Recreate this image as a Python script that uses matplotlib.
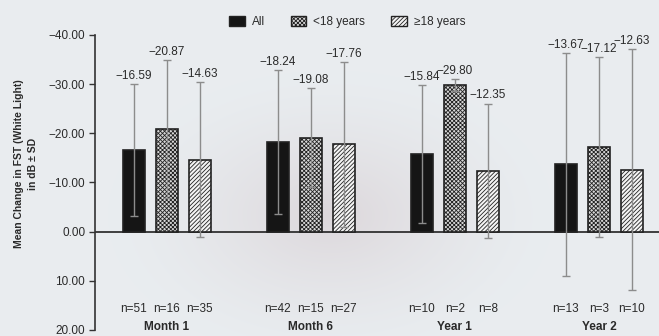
import matplotlib
matplotlib.use("Agg")
import matplotlib.pyplot as plt
import numpy as np
from matplotlib.patches import Patch
from matplotlib.ticker import FuncFormatter

plt.rcParams["font.family"] = ["Liberation Sans", "DejaVu Sans"]
plt.rcParams["hatch.linewidth"] = 0.6

visits = ["Month 1", "Month 6", "Year 1", "Year 2"]
groups = ["All", "<18 years", "\u226518 years"]

# mean change (dB) and SD per visit, one list per age group
means_all = [-16.59, -18.24, -15.84, -13.67]
means_young = [-20.87, -19.08, -29.80, -17.12]
means_old = [-14.63, -17.76, -12.35, -12.63]

sd_all = [13.4, 14.6, 14.0, 22.6]
sd_young = [14.0, 10.1, 1.2, 18.3]
sd_old = [15.7, 16.8, 13.7, 24.5]

n_all = [51, 42, 10, 13]
n_young = [16, 15, 2, 3]
n_old = [35, 27, 8, 10]

yticks = [-40, -30, -20, -10, 0, 10, 20]

series = [
    (means_all, sd_all, n_all, dict(facecolor="#151515", hatch=None)),
    (means_young, sd_young, n_young, dict(facecolor="#d8d8d8", hatch="xxxxxxxx")),
    (means_old, sd_old, n_old, dict(facecolor="#f4f4f4", hatch="////////")),
]

fig = plt.figure(figsize=(6.59, 3.36), dpi=100)

# soft backdrop
bg = fig.add_axes([0, 0, 1, 1], zorder=-1)
h, w = 336, 659
yy, xx = np.mgrid[0:h, 0:w]
r = np.sqrt(((xx - 330) / 230.0) ** 2 + ((yy - 215) / 150.0) ** 2)
t = np.clip(1 - r, 0, 1) ** 1.5
base = np.array([0.914, 0.929, 0.941])
mid = np.array([0.865, 0.845, 0.860])
img = base[None, None, :] * (1 - t[..., None]) + mid[None, None, :] * t[..., None]
bg.imshow(img, aspect="auto", extent=(0, 1, 0, 1))
bg.axis("off")

ax = fig.add_axes([0.144, 0.018, 0.856, 0.878])
ax.set_facecolor("none")

x = np.arange(len(visits))
offset = 0.229
width = 0.153
text_color = "#2a2a2a"

for i, (means, sds, ns, style) in enumerate(series):
    xpos = x + (i - 1) * offset
    ax.bar(xpos, means, width=width, edgecolor="#222222", linewidth=1.2,
           zorder=2, **style)
    ax.errorbar(xpos, means, yerr=sds, fmt="none", ecolor="#8c8c8c",
                elinewidth=1.0, capsize=3, capthick=1.0, zorder=3)
    for xp, m, s, n in zip(xpos, means, sds, ns):
        ax.annotate(f"{m:.2f}".replace("-", "\u2212"), (xp, m - s),
                    xytext=(0, 1.5), textcoords="offset points",
                    ha="center", va="bottom", fontsize=8.5, color=text_color)
        ax.text(xp, 15.8, f"n={n}", ha="center", va="center",
                fontsize=8.5, color=text_color)

for xi, name in zip(x, visits):
    ax.text(xi, 19.4, name, ha="center", va="center", fontsize=8.5,
            fontweight="bold", color=text_color)

ax.axhline(0, color="#222222", linewidth=1.2, zorder=1.5)

ax.set_xlim(-0.5, 3.417)
ax.set_ylim(20, -40)
ax.set_yticks(yticks)
ax.yaxis.set_major_formatter(
    FuncFormatter(lambda v, _: f"{v:.2f}".replace("-", "\u2212")))
ax.tick_params(axis="y", direction="out", length=4, width=1.0,
               colors="#333333", labelsize=8.5, labelcolor=text_color, pad=3)
ax.set_xticks([])
for side in ["top", "right", "bottom"]:
    ax.spines[side].set_visible(False)
ax.spines["left"].set_color("#333333")
ax.spines["left"].set_linewidth(1.2)

fig.text(0.039, 0.512, "Mean Change in FST (White Light)\nin dB \u00b1 SD",
         rotation=90, ha="center", va="center", fontsize=7.5,
         fontweight="bold", color=text_color, linespacing=1.45)

handles = [Patch(edgecolor="#222222", linewidth=1.0, **s[3]) for s in series]
fig.legend(handles, groups, loc="center", bbox_to_anchor=(0.527, 0.935),
           ncol=3, frameon=False, fontsize=8.5, handlelength=1.3,
           handleheight=1.0, handletextpad=0.6, columnspacing=2.2,
           labelcolor=text_color)

fig.savefig("out.png", dpi=100)
